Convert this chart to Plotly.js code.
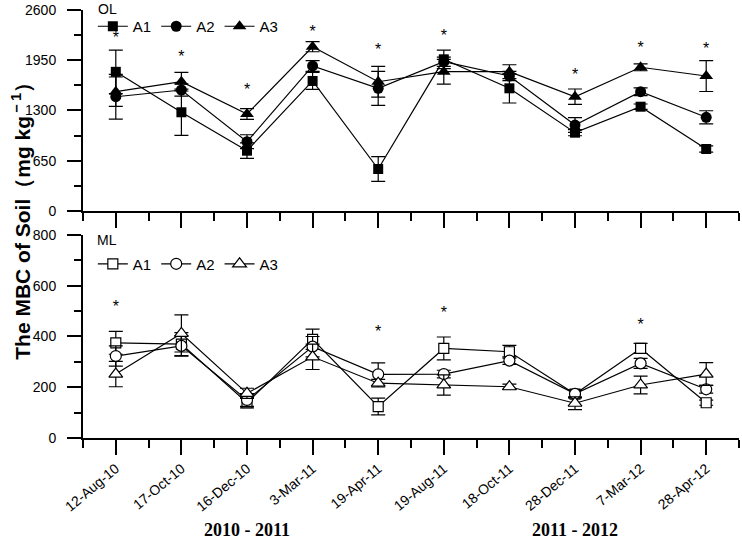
<!DOCTYPE html>
<html>
<head>
<meta charset="utf-8">
<script src="https://cdn.plot.ly/plotly-3.0.1.min.js"></script>
<style>
	html, body { margin: 0; padding: 0; background: #fff; }
	#chart { width: 742px; height: 545px; }
</style>
</head>
<body>
<div id="chart"></div>
<script>
// sampling dates
var dates = ['12-Aug-10', '17-Oct-10', '16-Dec-10', '3-Mar-11', '19-Apr-11',
		'19-Aug-11', '18-Oct-11', '28-Dec-11', '7-Mar-12', '28-Apr-12'];
var seriesNames = ['A1', 'A2', 'A3'];

// OL panel (mg/kg) and error bars
var olA1 = [1800, 1277, 780, 1682, 543, 1962, 1587, 1013, 1349, 802];
var olA1Err = [280, 300, 100, 110, 160, 120, 190, 40, 35, 40];
var olA2 = [1478, 1565, 896, 1876, 1587, 1931, 1746, 1112, 1543, 1212];
var olA2Err = [290, 80, 90, 70, 220, 60, 60, 95, 50, 85];
var olA3 = [1543, 1672, 1255, 2125, 1672, 1802, 1802, 1478, 1859, 1746];
var olA3Err = [190, 120, 70, 65, 200, 160, 90, 100, 45, 200];
var olStars = [2225, 1975, 1556, 2306, 2073, 2255, null, 1746, 2095, 2083];

// ML panel
var mlA1 = [375, 370, 139, 389, 124, 353, 340, 173, 353, 139];
var mlA1Err = [45, 45, 20, 40, 33, 45, 25, 15, 20, 10];
var mlA2 = [323, 363, 150, 360, 251, 252, 305, 174, 294, 192];
var mlA2Err = [40, 40, 25, 40, 45, 15, 15, 15, 20, 15];
var mlA3 = [252, 412, 176, 320, 216, 209, 202, 137, 209, 252];
var mlA3Err = [50, 73, 20, 50, 15, 40, 10, 25, 35, 45];
var mlStars = [511, null, null, null, 413, 487, null, null, 443, null];

var olTicks = [0, 650, 1300, 1950, 2600];
var mlTicks = [0, 200, 400, 600, 800];
var groupLabels = ['2010 - 2011', '2011 - 2012'];
var groupEdges = [0.5, 5.5, 10.5];

var symbols = ['square', 'circle', 'triangle-up'];
var symSizes = [10, 11, 12];
var font = 'Arial, "Liberation Sans", sans-serif';

var xPos = [];
for (var i = 0; i < dates.length; i++) {
	xPos.push(i + 1);
}

function makeTrace(vals, errs, k, xa, ya, open, legendName) {
	return {
		x : xPos,
		y : vals,
		xaxis : xa,
		yaxis : ya,
		type : 'scatter',
		mode : 'lines+markers',
		name : seriesNames[k],
		legend : legendName,
		cliponaxis : false,
		line : { color : 'black', width : 1.2 },
		marker : {
			symbol : symbols[k],
			size : symSizes[k],
			color : open ? 'white' : 'black',
			line : { color : 'black', width : open ? 1.2 : 0 }
		},
		error_y : {
			type : 'data',
			array : errs,
			visible : true,
			color : 'black',
			thickness : 1.2,
			width : 7
		}
	};
}

// only the dates that have a star
function starTrace(stars, xa, ya) {
	var sx = [], sy = [];
	for (var i = 0; i < stars.length; i++) {
		if (stars[i] !== null) {
			sx.push(xPos[i]);
			sy.push(stars[i]);
		}
	}
	return {
		x : sx, y : sy, xaxis : xa, yaxis : ya,
		type : 'scatter', mode : 'text', text : '*', showlegend : false,
		cliponaxis : false,
		textfont : { family : font, size : 16, color : 'black' }
	};
}

var data = [];
var olVals = [olA1, olA2, olA3];
var olErrs = [olA1Err, olA2Err, olA3Err];
var mlVals = [mlA1, mlA2, mlA3];
var mlErrs = [mlA1Err, mlA2Err, mlA3Err];
for (var k = 0; k < 3; k++) {
	data.push(makeTrace(olVals[k], olErrs[k], k, 'x', 'y', false, 'legend'));
}
for (var k = 0; k < 3; k++) {
	data.push(makeTrace(mlVals[k], mlErrs[k], k, 'x2', 'y2', true, 'legend2'));
}
data.push(starTrace(olStars, 'x', 'y'));
data.push(starTrace(mlStars, 'x2', 'y2'));

function xAxis(anchor, showLabels) {
	return {
		anchor : anchor,
		range : [0.5, 10.5],
		tickmode : 'array',
		tickvals : xPos,
		ticktext : dates,
		showticklabels : showLabels,
		tickangle : -40,
		ticks : 'outside',
		ticklen : 15,
		tickwidth : 2,
		tickcolor : 'black',
		minor : { tick0 : 0.5, dtick : 0.5, ticks : 'outside', ticklen : 8, tickwidth : 2, tickcolor : 'black' },
		showline : true,
		linewidth : 2,
		linecolor : 'black',
		showgrid : false,
		zeroline : false,
		tickfont : { family : font, size : 14, color : 'black' }
	};
}

function yAxis(anchor, domain, ticks, minorStep) {
	return {
		anchor : anchor,
		domain : domain,
		range : [ticks[0], ticks[ticks.length - 1]],
		tickmode : 'array',
		tickvals : ticks,
		ticks : 'outside',
		ticklen : 14,
		tickwidth : 2,
		tickcolor : 'black',
		ticklabelstandoff : 8,
		minor : { dtick : minorStep, ticks : 'outside', ticklen : 7, tickwidth : 2, tickcolor : 'black' },
		showline : true,
		linewidth : 2,
		linecolor : 'black',
		showgrid : false,
		zeroline : false,
		tickfont : { family : font, size : 14, color : 'black' }
	};
}

var shapes = [];
for (var g = 0; g < groupEdges.length; g++) {
	shapes.push({
		type : 'line',
		xref : 'x2',
		yref : 'y2',
		ysizemode : 'pixel',
		yanchor : 0,
		x0 : groupEdges[g],
		x1 : groupEdges[g],
		y0 : 0,
		y1 : -44,
		line : { color : 'black', width : 2 }
	});
}

var annotations = [{
	text : 'The MBC of Soil（mg kg<sup>－1</sup>）',
	xref : 'paper', yref : 'paper',
	x : -0.094, y : 0.52,
	xanchor : 'center', yanchor : 'middle',
	textangle : -90,
	showarrow : false,
	font : { family : font, size : 21, color : 'black', weight : 'bold' }
}, {
	text : 'OL', xref : 'paper', yref : 'paper', x : 0.02, y : 1.002,
	xanchor : 'left', yanchor : 'middle', showarrow : false,
	font : { family : font, size : 14, color : 'black' }
}, {
	text : 'ML', xref : 'paper', yref : 'paper', x : 0.018, y : 0.4626,
	xanchor : 'left', yanchor : 'middle', showarrow : false,
	font : { family : font, size : 14, color : 'black' }
}];
for (var g = 0; g < groupLabels.length; g++) {
	annotations.push({
		text : groupLabels[g],
		xref : 'x2', yref : 'paper',
		x : (groupEdges[g] + groupEdges[g + 1]) / 2,
		y : -0.215,
		xanchor : 'center', yanchor : 'middle',
		showarrow : false,
		font : { family : '"Liberation Serif", "Times New Roman", serif', size : 18, color : 'black', weight : 'bold' }
	});
}

var legendBase = {
	orientation : 'h',
	xanchor : 'left',
	yanchor : 'top',
	x : 0.015,
	bgcolor : 'rgba(0,0,0,0)',
	borderwidth : 0,
	traceorder : 'normal',
	font : { family : font, size : 15, color : 'black' }
};
var legend1 = Object.assign({}, legendBase, { y : 1.0 });
var legend2 = Object.assign({}, legendBase, { y : 0.445 });

var layout = {
	width : 742,
	height : 545,
	paper_bgcolor : 'white',
	plot_bgcolor : 'white',
	margin : { l : 83, r : 3, t : 10, b : 107 },
	showlegend : true,
	legend : legend1,
	legend2 : legend2,
	xaxis : xAxis('y', false),
	xaxis2 : xAxis('y2', true),
	yaxis : yAxis('x', [0.5304, 1], olTicks, 325),
	yaxis2 : yAxis('x2', [0, 0.4743], mlTicks, 100),
	shapes : shapes,
	annotations : annotations
};

Plotly.newPlot('chart', data, layout, { displayModeBar : false, staticPlot : true });
</script>
</body>
</html>
